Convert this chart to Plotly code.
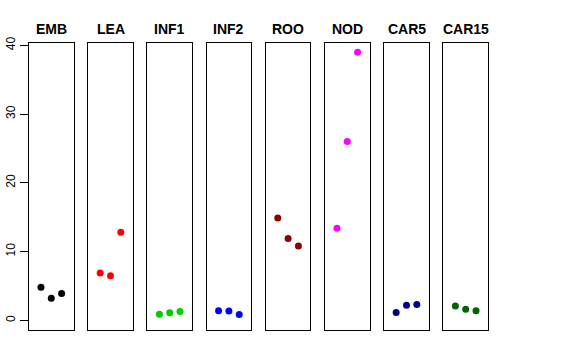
import plotly.graph_objects as go

categories = ["EMB", "LEA", "INF1", "INF2", "ROO", "NOD", "CAR5", "CAR15"]
values = {
    "EMB": [4.8, 3.2, 3.9],
    "LEA": [6.9, 6.5, 12.8],
    "INF1": [0.9, 1.1, 1.3],
    "INF2": [1.4, 1.35, 0.85],
    "ROO": [14.9, 11.9, 10.8],
    "NOD": [13.4, 26.0, 39.0],
    "CAR5": [1.15, 2.2, 2.3],
    "CAR15": [2.1, 1.6, 1.4],
}
colors = ["#000000", "#FF0000", "#00CD00", "#0000FF", "#8B0000", "#FF00FF", "#00008B", "#006400"]
replicates = [1, 2, 3]
y_ticks = [0, 10, 20, 30, 40]

W, H = 576, 360
left0 = 29.0
pw = 44.6
step = 59.2
top_px, bot_px = 43.3, 330.3
ydom = [1 - bot_px / H, 1 - top_px / H]
yrange = [-1.45, 40.29]
xrange = [-0.16, 4.16]

fig = go.Figure()
layout = dict(
    width=W, height=H,
    margin=dict(l=0, r=0, t=0, b=0, autoexpand=False),
    paper_bgcolor="white", plot_bgcolor="white",
    showlegend=False,
    font=dict(family="Liberation Sans, Arial, sans-serif", color="black"),
)
annotations = []
for i, cat in enumerate(categories):
    n = "" if i == 0 else str(i + 1)
    x0 = left0 + i * step
    dom = [x0 / W, (x0 + pw) / W]
    fig.add_trace(go.Scatter(
        x=replicates, y=values[cat], mode="markers",
        marker=dict(color=colors[i], size=7, line=dict(width=0)),
        xaxis="x" + n, yaxis="y" + n, hoverinfo="skip",
    ))
    layout["xaxis" + n] = dict(
        domain=dom, range=xrange, showgrid=False, zeroline=False,
        showticklabels=False, ticks="", showline=True, mirror=True,
        linecolor="black", linewidth=1, anchor="y" + n, fixedrange=True,
        automargin=False,
    )
    ya = dict(
        domain=ydom, range=yrange, showgrid=False, zeroline=False,
        showline=True, mirror=True, linecolor="black", linewidth=1,
        anchor="x" + n, fixedrange=True, automargin=False,
    )
    if i == 0:
        ya.update(tickvals=y_ticks, ticktext=[str(t) for t in y_ticks],
                  ticks="outside", ticklen=8, tickcolor="black", tickwidth=1,
                  tickangle=-90, tickfont=dict(size=12, color="black"))
    else:
        ya.update(showticklabels=False, ticks="")
    layout["yaxis" + n] = ya
    annotations.append(dict(
        x=(x0 + pw / 2) / W, y=1 - 29.2 / H, xref="paper", yref="paper",
        text="<b>" + cat + "</b>", showarrow=False,
        font=dict(size=14, color="black"), xanchor="center", yanchor="middle",
    ))
layout["annotations"] = annotations
fig.update_layout(**layout)
fig.write_html(
    "out.html",
    config={"displayModeBar": False},
    post_script="document.body.style.margin='0';",
)
